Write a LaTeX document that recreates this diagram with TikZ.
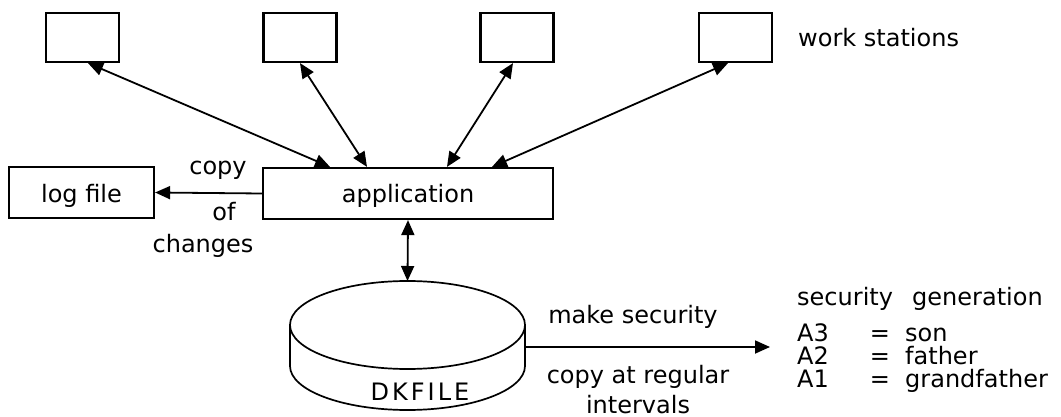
\documentclass[tikz,border=0pt]{standalone}
\usepackage{fontspec}
\setmainfont{DejaVu Sans}
\usetikzlibrary{arrows.meta}
\begin{document}
\begin{tikzpicture}[x=1pt,y=-1pt,
  every node/.style={font=\fontsize{24}{29}\selectfont, inner sep=0pt},
  box/.style={draw, line width=2.2pt},
  wsbox/.style={box, minimum width=73pt, minimum height=49pt},
  link/.style={line width=1.8pt},
  head/.style={-{Triangle[length=15pt,width=13pt]}},
  heads/.style={{Triangle[length=15pt,width=13pt]}-{Triangle[length=15pt,width=13pt]}},
  lbl/.style={anchor=base},
  column/.style={anchor=base west, align=left, font=\fontsize{24}{23}\selectfont}]
\fill[white] (0,0) rectangle (1061,417);
\useasboundingbox (0,0) rectangle (1061,417);

% work stations
\node[wsbox] (ws1) at (82.5,37.5) {};
\node[wsbox] (ws2) at (300,37.5) {};
\node[wsbox] (ws3) at (517,37.5) {};
\node[wsbox] (ws4) at (735.5,37.5) {};
\node[anchor=base west] (wslabel) at (798,47) {work stations};

% application and log file
\node[box, minimum width=145pt, minimum height=51pt] (log) at (81.5,192.5) {};
\node[lbl] (logtext) at (81.5,203) {log file};
\node[box, minimum width=290pt, minimum height=51pt] (app) at (408,193.5) {};
\node[lbl] (apptext) at (408,203) {application};

\draw[link, heads] ([xshift=5.5pt]ws1.south) -- ([xshift=-78pt]app.north);
\draw[link, heads] (ws2.south) -- ([xshift=-41pt]app.north);
\draw[link, heads] ([xshift=-4pt]ws3.south) -- ([xshift=39pt]app.north);
\draw[link, heads] ([xshift=-7.5pt]ws4.south) -- ([xshift=84pt]app.north);

\draw[link, head] (app.west) -- (log.east);
\node[lbl] (copy) at (218,175) {copy};
\node[lbl] (of) at (224,220) {of};
\node[lbl] (changes) at (203,252) {changes};

% disk file
\draw[line width=1.7pt] (407.5,325) ellipse [x radius=117.5, y radius=44];
\draw[line width=1.7pt] (290,325) -- (290,366);
\draw[line width=1.7pt] (525,325) -- (525,366);
\begin{scope}
  \clip (280,366) rectangle (540,417);
  \draw[line width=1.7pt] (407.5,366) ellipse [x radius=117.5, y radius=44];
\end{scope}
\node[lbl] (dk) at (420,400) {D\kern3pt K\kern3pt F\kern3pt I\kern3pt L\kern3pt E};
\coordinate (disktop) at (407.5,281);
\coordinate (diskright) at (525,347);
\coordinate (secout) at (770,347);

\draw[link, heads] (app.south) -- (disktop);
\draw[link, head] (diskright) -- (secout);
\node[lbl] (make) at (633,323.5) {make security};
% multi-line nodes sit on the baseline of their last line
\node[lbl, align=center, font=\fontsize{24}{29.5}\selectfont] (regular) at (638,413) {copy at regular\\intervals};

% security generations
\node[anchor=base west] (sechead) at (797,305) {security};
\node[anchor=base west] (genhead) at (912,305) {generation};
\node[column] (names) at (797,387) {A3\\A2\\A1};
\node[column, align=center, anchor=base] (equals) at (880,387) {=\\=\\=};
\node[column] (gens) at (905,387) {son\\father\\grandfather};
\end{tikzpicture}
\end{document}
